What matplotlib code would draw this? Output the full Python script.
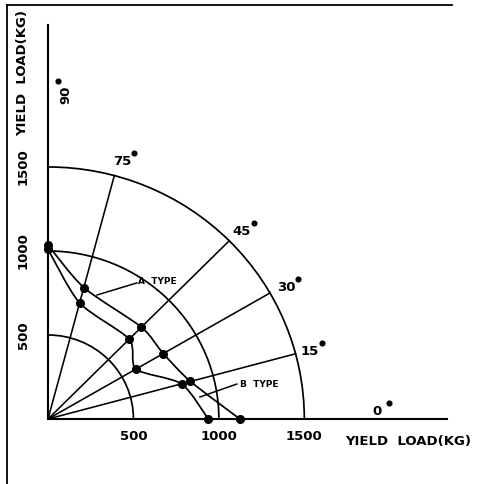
import numpy as np
import matplotlib
matplotlib.use('Agg')
import matplotlib.pyplot as plt
import matplotlib.transforms as mtransforms
from matplotlib.patches import Arc, PathPatch
from matplotlib.path import Path
from matplotlib.lines import Line2D

# loading angle (deg) and yield load (kg)
angles = [90, 75, 45, 30, 15, 0]
a_type = [1035, 810, 773, 779, 863, 1123]
b_type = [1010, 715, 672, 594, 809, 938]

grid_radii = [500, 1000, 1500]
ray_angles = [15, 30, 45, 75]
tick_vals = [500, 1000, 1500]
tick_labels = ['500', '1000', '1500']

# angle labels: (text, x, y, rotation)
angle_labels = [('90', 105, 1929, 90), ('75', 433, 1530, 0), ('45', 1135, 1113, 0),
                ('30', 1392, 780, 0), ('15', 1532, 399, 0), ('0', 1924, 42, 0)]

FONT = 'DejaVu Sans'


def to_xy(ang, r):
    t = np.radians(ang)
    return np.array(r) * np.cos(t), np.array(r) * np.sin(t)


def smooth_path(x, y, k=8.0):
    # catmull-rom style through the points, handed to matplotlib as bezier segments
    p = np.column_stack([x, y])
    verts = [p[0]]
    codes = [Path.MOVETO]
    n = len(p)
    for i in range(n - 1):
        p0 = p[max(i - 1, 0)]
        p3 = p[min(i + 2, n - 1)]
        c1 = p[i] + (p[i + 1] - p0) / k
        c2 = p[i + 1] - (p3 - p[i]) / k
        verts += [c1, c2, p[i + 1]]
        codes += [Path.CURVE4] * 3
    return Path(verts, codes)


fig = plt.figure(figsize=(4.83, 4.84), dpi=100)
ax = fig.add_axes([48 / 483, 65 / 484, 399 / 483, 394 / 484])
ax.set_xlim(0, 2335)
ax.set_ylim(0, 2345)
ax.spines['top'].set_visible(False)
ax.spines['right'].set_visible(False)
ax.spines['left'].set_linewidth(1.5)
ax.spines['bottom'].set_linewidth(1.5)
ax.set_xticks([])
ax.set_yticks([])

# grid arcs and rays
for r in grid_radii:
    ax.add_patch(Arc((0, 0), 2 * r, 2 * r, theta1=0, theta2=90, color='black', lw=1.25))
for a in ray_angles:
    rx, ry = to_xy(a, [0, 1500])
    ax.plot(rx, ry, color='black', lw=1.15)

# the two curves
for vals in [a_type, b_type]:
    x, y = to_xy(angles, vals)
    ax.add_patch(PathPatch(smooth_path(x, y), fill=False, ec='black', lw=1.25))
    ax.plot(x, y, 'o', color='black', ms=5.5, ls='none', clip_on=False, zorder=5)

# type labels with leader lines
ax.plot([520, 287], [810, 738], color='black', lw=1.1)
ax.text(526, 821, 'A  TYPE', fontsize=6.5, fontweight='bold', family=FONT, va='center')
ax.plot([1105, 889], [208, 131], color='black', lw=1.1)
ax.text(1123, 208, 'B  TYPE', fontsize=6.5, fontweight='bold', family=FONT, va='center')

# angle labels with raised degree dot
for txt, x, y, rot in angle_labels:
    ax.text(x, y, txt, fontsize=9.5, fontweight='bold', family=FONT,
            ha='center', va='center', rotation=rot)
    dx, dy = (-8, 14) if rot == 90 else (12, 9)
    tr = mtransforms.offset_copy(ax.transData, fig=fig, x=dx, y=dy, units='dots')
    ax.plot([x], [y], 'o', color='black', ms=3.4, transform=tr, clip_on=False)

# tick labels
for v, s in zip(tick_vals, tick_labels):
    ax.text(v, -107, s, fontsize=9.5, fontweight='bold', family=FONT,
            ha='center', va='center', clip_on=False)
    ax.text(-146, v, s, fontsize=9.5, fontweight='bold', family=FONT,
            ha='center', va='center', rotation=90, clip_on=False)

# axis titles
fig.text(408 / 483, 1 - 442 / 484, 'YIELD  LOAD(KG)', fontsize=9.5, fontweight='bold',
         family=FONT, ha='center', va='center')
fig.text(23 / 483, 1 - 73 / 484, 'YIELD  LOAD(KG)', fontsize=9.5, fontweight='bold',
         family=FONT, ha='center', va='center', rotation=90)

# frame of the scanned figure (left and top edge only)
fig.add_artist(Line2D([7 / 483, 7 / 483], [0, 1 - 5 / 484], color='black', lw=1.3))
fig.add_artist(Line2D([7 / 483, 452 / 483], [1 - 5 / 484, 1 - 5 / 484], color='black', lw=1.3))

fig.savefig('out.png', dpi=100)
